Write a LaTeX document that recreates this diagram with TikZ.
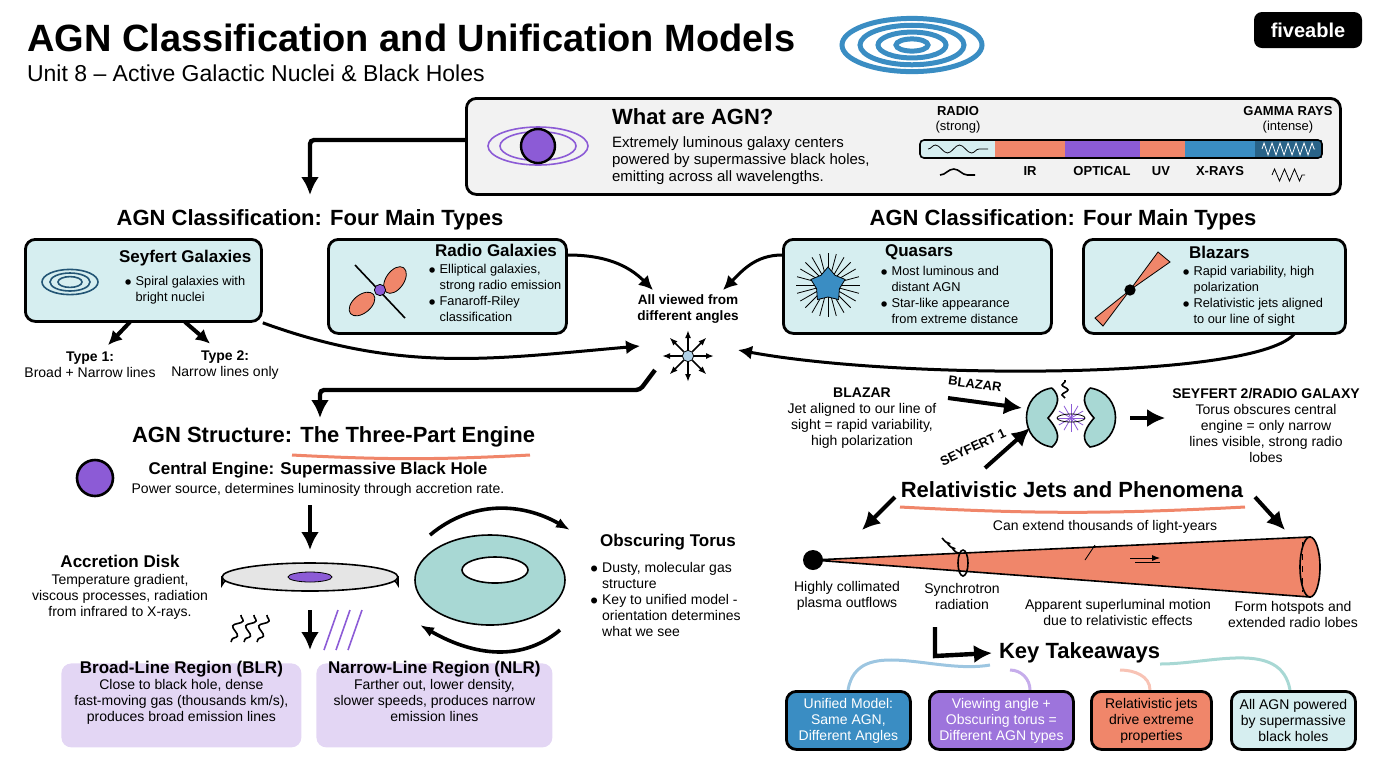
\documentclass[tikz,border=0pt]{standalone}
\usepackage{fontspec}
\setmainfont{Liberation Sans}
\usetikzlibrary{positioning, calc, arrows.meta, decorations.pathmorphing, shapes.geometric}
\definecolor{boxcyan}{HTML}{D6EEF0}
\definecolor{salmon}{HTML}{F0866A}
\definecolor{agnpurple}{HTML}{8C5BD6}
\definecolor{lavender}{HTML}{E3D6F4}
\definecolor{agnblue}{HTML}{3A8DC3}
\definecolor{teal}{HTML}{A8D8D4}
\tikzset{
  box/.style={draw, line width=1.4pt, rounded corners=5pt, fill=boxcyan, anchor=north west},
  head/.style={font=\fontsize{11}{13}\selectfont\bfseries},
  ttl/.style={font=\fontsize{8.5}{10}\selectfont\bfseries},
  txt/.style={font=\fontsize{7}{8}\selectfont, align=center},
  ltxt/.style={font=\fontsize{7}{8}\selectfont, align=left},
  btxt/.style={font=\fontsize{6.4}{8}\selectfont, align=left, anchor=north west, inner sep=1pt},
  arr/.style={line width=2.2pt, -{Latex[length=9pt,width=9pt]}},
  carr/.style={line width=1.5pt, -{Latex[length=7pt,width=7pt]}},
}
\begin{document}
\begin{tikzpicture}[x=0.5pt, y=-0.5pt]
\useasboundingbox (0,0) rectangle (1376,768);
% title
\node[anchor=west, font=\fontsize{19}{22}\selectfont\bfseries] (title) at (20,38) {AGN Classification and Unification Models};
\node[anchor=west, font=\fontsize{11.5}{14}\selectfont] (subtitle) at (20,73) {Unit 8 -- Active Galactic Nuclei \& Black Holes};
\foreach \r in {70,52,34,16}
  \draw[agnblue, line width=2.5pt] (912,45) ellipse ({\r} and {\r*0.38});
\node[fill=black, text=white, rounded corners=4pt, font=\fontsize{10}{12}\selectfont\bfseries, minimum width=54pt, minimum height=18pt] (logo) at (1308,30) {fiveable};
% what are AGN
\node[box, fill=gray!10, minimum width=437pt, minimum height=48pt] (what) at (465,97) {};
\foreach \r in {50,38} \draw[agnpurple, thick] (538,146) ellipse ({\r} and {\r*0.38});
\node[circle, draw, line width=1.2pt, fill=agnpurple, minimum size=17pt] (bh) at (538,146) {};
\node[anchor=west, font=\fontsize{11}{13}\selectfont\bfseries] (whatt) at (605,117) {What are AGN?};
\node[anchor=north west, ltxt, font=\fontsize{7.5}{8.5}\selectfont] (whatx) at (605,130) {Extremely luminous galaxy centers\\powered by supermassive black holes,\\emitting across all wavelengths.};
\foreach \a/\b/\c in {920/995/boxcyan,995/1065/salmon,1065/1140/agnpurple,1140/1185/salmon,1185/1255/agnblue,1255/1322/agnblue!70!black}
  \fill[\c] (\a,140) rectangle (\b,158);
\draw[thick, rounded corners=2pt] (920,140) rectangle (1322,158);
\draw[decorate, decoration={snake, amplitude=2pt, segment length=12pt}] (928,149) -- (988,149);
\draw[white, decorate, decoration={zigzag, amplitude=3pt, segment length=4pt}] (1262,149) -- (1315,149);
\node[txt, font=\fontsize{6.5}{7.5}\selectfont] (radio) at (958,120) {\textbf{RADIO}\\(strong)};
\node[txt, font=\fontsize{6.5}{7.5}\selectfont] (gamma) at (1288,120) {\textbf{GAMMA RAYS}\\(intense)};
\foreach \x/\t in {1030/IR,1102/OPTICAL,1161/UV,1220/X-RAYS}
  \node[txt, font=\fontsize{6.5}{7.5}\selectfont\bfseries] at (\x,171) {\t};
\draw[thick, decorate, decoration={snake, amplitude=3pt, segment length=22pt}] (940,175) -- (975,175);
\draw[decorate, decoration={zigzag, amplitude=3pt, segment length=5pt}] (1272,175) -- (1305,175);
% arrow to classification
\coordinate (c1) at (310,195);
\draw[arr, rounded corners=2pt] (what.west |- 0,140) -- (310,140) -- (c1);
% classification headings
\node[head] (clsL) at (310,220) {AGN Classification: Four Main Types};
\node[head] (clsR) at (1063,220) {AGN Classification: Four Main Types};
% four types
\node[box, minimum width=118pt, minimum height=41pt] (sey) at (24,238) {};
\node[ttl, anchor=west] at (112,258) {Seyfert Galaxies};
\node[btxt] at (122,274) {$\bullet$ Spiral galaxies with\\\phantom{$\bullet$ }bright nuclei};
\foreach \r in {28,20,12} \draw[agnblue!60!black, thick] (70,282) ellipse ({\r} and {\r*0.45});
\node[box, minimum width=119pt, minimum height=47pt] (rad) at (327,238) {};
\node[ttl, anchor=west] at (428,250) {Radio Galaxies};
\node[btxt] at (426,262) {$\bullet$ Elliptical galaxies,\\\phantom{$\bullet$ }strong radio emission\\$\bullet$ Fanaroff-Riley\\\phantom{$\bullet$ }classification};
\draw[thick] (355,265) -- (405,318);
\fill[salmon, draw=black, rotate around={-35:(395,280)}] (395,280) ellipse (9 and 15);
\fill[salmon, draw=black, rotate around={40:(362,304)}] (362,304) ellipse (15 and 9);
\node[circle, fill=agnpurple, draw, inner sep=2pt] at (380,290) {};
\node[box, minimum width=134pt, minimum height=47pt] (qua) at (782,238) {};
\node[ttl, anchor=west] at (878,252) {Quasars};
\node[btxt] at (878,264) {$\bullet$ Most luminous and\\\phantom{$\bullet$ }distant AGN\\$\bullet$ Star-like appearance\\\phantom{$\bullet$ }from extreme distance};
\foreach \a in {0,15,...,345} \draw (828,285) -- ++(\a:32);
\node[star, star points=5, fill=agnblue, draw, minimum size=18pt, inner sep=0pt] at (828,285) {};
\node[box, minimum width=131pt, minimum height=47pt] (bla) at (1082,238) {};
\node[ttl, anchor=west] at (1182,252) {Blazars};
\node[btxt] at (1180,264) {$\bullet$ Rapid variability, high\\\phantom{$\bullet$ }polarization\\$\bullet$ Relativistic jets aligned\\\phantom{$\bullet$ }to our line of sight};
\fill[salmon, draw=black] (1130,290) -- (1158,252) -- (1170,262) -- cycle;
\fill[salmon, draw=black] (1130,290) -- (1095,318) -- (1103,326) -- cycle;
\node[circle, fill=black, inner sep=2pt] at (1130,290) {};
% center
\node[txt, font=\fontsize{6.8}{8}\selectfont\bfseries] (view) at (688,309) {All viewed from\\different angles};
\node[circle, fill=agnblue!40, draw, inner sep=2pt] (hub) at (688,356) {};
\foreach \a in {0,45,...,315} \draw[thick, -{Latex[length=4pt]}] (hub) -- ++(\a:26);
\coordinate (hubL) at (640,346);
\coordinate (hubR) at (738,350);
\coordinate (hubTL) at (653,290);
\coordinate (hubTR) at (723,290);
\draw[carr] (rad.east |- 0,255) to[out=0, in=135] (hubTL);
\draw[carr] (qua.west |- 0,255) to[out=180, in=45] (hubTR);
\draw[carr] (sey.south east) to[out=-20, in=185] (hubL);
\draw[carr] (1295,333) .. controls (1260,380) and (900,380) .. (hubR);
% seyfert types
\node[txt] (t1) at (90,365) {\textbf{Type 1:}\\Broad + Narrow lines};
\node[txt] (t2) at (225,365) {\textbf{Type 2:}\\Narrow lines only};
\draw[carr, line width=2pt] (130,322) -- (t1.north -| 108,0);
\draw[carr, line width=2pt] (185,322) -- (t2.north -| 210,0);
% arrow to structure
\coordinate (c2) at (320,418);
\draw[arr, rounded corners=2pt] (655,370) -- (640,390) -- (320,390) -- (c2);
\node[head, anchor=west] (struc) at (125,437) {AGN Structure: The Three-Part Engine};
\draw[salmon, line width=1.5pt] (292,455) to[bend right=3] (530,455);
\node[circle, draw, line width=1.3pt, fill=agnpurple, minimum size=18pt] (ce) at (95,478) {};
\node[ttl] (cet) at (318,470) {Central Engine: Supermassive Black Hole};
\node[txt] (cex) at (318,490) {Power source, determines luminosity through accretion rate.};
% accretion disk
\coordinate (dtop) at (310,550);
\draw[arr] (310,505) -- (dtop);
\fill[gray!35, draw=black, thick] (222,577) -- (222,585) arc (180:360:88 and 14) -- (398,577) -- cycle;
\draw[thick, fill=gray!20] (310,577) ellipse (88 and 14);
\draw[fill=agnpurple] (310,577) ellipse (22 and 5);
\node[ttl] (adt) at (120,561) {Accretion Disk};
\node[txt] (adx) at (120,597) {Temperature gradient,\\viscous processes, radiation\\from infrared to X-rays.};
\foreach \x in {235,248,261} \draw[thick, decorate, decoration={snake, amplitude=2pt, segment length=8pt}] (\x+6,615) -- (\x-4,642);
\foreach \x in {330,342,354} \draw[agnpurple, thick] (\x+8,610) -- (\x-6,650);
\draw[arr] (310,610) -- (310,650);
% torus
\draw[thick, fill=teal] (490,580) ellipse (75 and 45);
\draw[thick, fill=white] (495,570) ellipse (33 and 13);
\draw[line width=1.8pt, -{Latex[length=7pt]}] (430,535) to[out=40, in=150] (570,530);
\draw[line width=1.8pt, -{Latex[length=7pt]}] (560,630) to[out=-140, in=-30] (420,625);
\node[ttl, anchor=west] (ott) at (593,542) {Obscuring Torus};
\node[ltxt, anchor=north west] (otx) at (583,555) {$\bullet$ Dusty, molecular gas\\\phantom{$\bullet$ }structure\\$\bullet$ Key to unified model -\\\phantom{$\bullet$ }orientation determines\\\phantom{$\bullet$ }what we see};
% regions
\node[box, draw=none, fill=lavender, minimum width=120pt, minimum height=42pt] (blr) at (60,662) {};
\node[txt, anchor=north] at (blr.north) {\\[-6pt]\textbf{\fontsize{8.5}{10}\selectfont Broad-Line Region (BLR)}\\Close to black hole, dense\\fast-moving gas (thousands km/s),\\produces broad emission lines};
\node[box, draw=none, fill=lavender, minimum width=118pt, minimum height=42pt] (nlr) at (315,662) {};
\node[txt, anchor=north] at (nlr.north) {\\[-6pt]\textbf{\fontsize{8.5}{10}\selectfont Narrow-Line Region (NLR)}\\Farther out, lower density,\\slower speeds, produces narrow\\emission lines};
% orientation
\node[txt, anchor=north] (blz) at (862,381) {\textbf{BLAZAR}\\Jet aligned to our line of\\sight = rapid variability,\\high polarization};
\node[txt, anchor=north] (s2) at (1266,381) {\textbf{SEYFERT 2/RADIO GALAXY}\\Torus obscures central\\engine = only narrow\\lines visible, strong radio\\lobes};
\coordinate (torL) at (1022,408);
\coordinate (torLL) at (1030,428);
\fill[teal, draw=black, thick] (1052,388) .. controls (1018,393) and (1018,442) .. (1052,447) .. controls (1060,440) and (1060,432) .. (1048,418) .. controls (1060,404) and (1060,396) .. (1052,388);
\fill[teal, draw=black, thick] (1090,388) .. controls (1124,393) and (1124,442) .. (1090,447) .. controls (1082,440) and (1082,432) .. (1094,418) .. controls (1082,404) and (1082,396) .. (1090,388);
\foreach \a in {0,30,...,330} \draw[agnpurple] (1071,418) -- ++(\a:14);
\draw (1071,418) ellipse (14 and 4);
\draw[thick, decorate, decoration={snake, amplitude=1.5pt, segment length=5pt}] (1065,398) -- (1065,380);
\draw[arr, line width=2pt] (948,398) -- (torL);
\draw[arr, line width=2pt] (985,468) -- (torLL);
\draw[arr, line width=2pt] (1130,418) -- (s2.west |- 0,418);
\node[font=\fontsize{6.5}{7.5}\selectfont\bfseries, rotate=-8] at (975,384) {BLAZAR};
\node[font=\fontsize{6.5}{7.5}\selectfont\bfseries, rotate=25] at (973,447) {SEYFERT 1};
% jets
\node[head] (jet) at (1072,490) {Relativistic Jets and Phenomena};
\draw[salmon, line width=1.5pt] (900,507) to[bend right=3] (1245,507);
\draw[arr, line width=2pt] (895,497) -- (862,530);
\draw[arr, line width=2pt] (1255,497) -- (1285,530);
\fill[salmon, draw=black, thick] (813,560) -- (1310,537) -- (1310,597) -- cycle;
\draw[thick, fill=salmon] (1310,567) ellipse (10 and 30);
\draw[dashed] (1302,542) -- (1302,592);
\node[circle, fill=black, minimum size=10pt, inner sep=0pt] (dot) at (813,560) {};
\draw[thick] (963,563) ellipse (5 and 13);
\foreach \d in {0,5,10} \draw[thick] (952-\d,548-\d) arc (150:100:12);
\draw (1095,545) -- (1085,560);
\draw[-{Latex[length=4pt]}] (1130,558) -- (1160,558);
\draw (1135,562) -- (1160,562);
\node[txt] (j0) at (1105,527) {Can extend thousands of light-years};
\node[txt] (j1) at (847,596) {Highly collimated\\plasma outflows};
\node[txt] (j2) at (962,596) {Synchrotron\\radiation};
\node[txt] (j3) at (1118,612) {Apparent superluminal motion\\due to relativistic effects};
\node[txt] (j4) at (1293,614) {Form hotspots and\\extended radio lobes};
% takeaways
\node[head, anchor=west] (key) at (992,653) {Key Takeaways};
\draw[arr, line width=2.2pt] (935,627) -- (935,656) -- (key.west);
\draw[agnblue!50, line width=1.5pt] (990,665) to[out=190, in=80] (848,690);
\draw[agnpurple!50, line width=1.5pt] (1010,670) to[out=0, in=90] (1030,690);
\draw[salmon!50, line width=1.5pt] (1120,670) to[out=0, in=90] (1150,690);
\draw[teal, line width=1.5pt] (1160,664) to[out=0, in=100] (1290,690);
\node[box, fill=agnblue, minimum width=62pt, minimum height=29pt] (k1) at (785,690) {};
\node[txt, text=white] at (k1.center) {Unified Model:\\Same AGN,\\Different Angles};
\node[box, fill=agnpurple!85, minimum width=72pt, minimum height=29pt] (k2) at (928,690) {};
\node[txt, text=white] at (k2.center) {Viewing angle +\\Obscuring torus =\\Different AGN types};
\node[box, fill=salmon, minimum width=60pt, minimum height=29pt] (k3) at (1090,690) {};
\node[txt] at (k3.center) {Relativistic jets\\drive extreme\\properties};
\node[box, minimum width=62pt, minimum height=29pt] (k4) at (1230,690) {};
\node[txt] at (k4.center) {All AGN powered\\by supermassive\\black holes};
\end{tikzpicture}
\end{document}
